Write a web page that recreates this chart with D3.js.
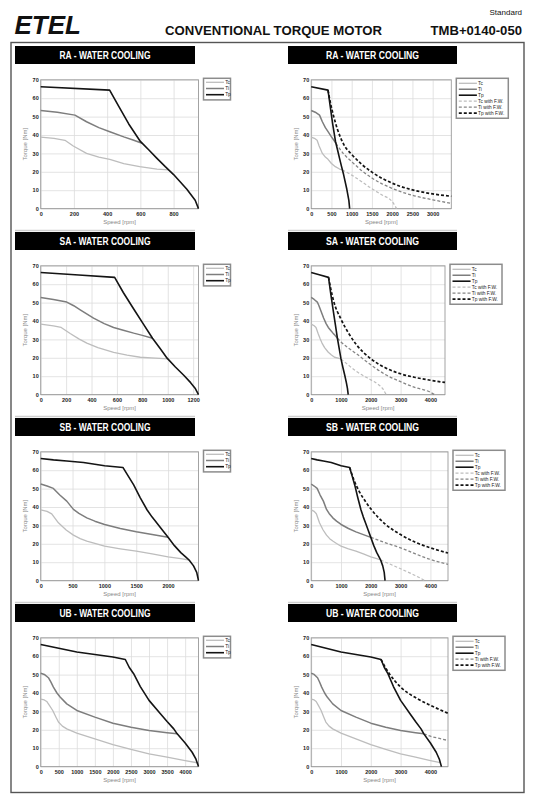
<!DOCTYPE html>
<html>
<head>
<meta charset="utf-8">
<script src="https://cdn.jsdelivr.net/npm/d3@7"></script>
<style>
	body { margin: 0; background: #fff; }
	svg { display: block; font-family: "Liberation Sans", Arial, sans-serif; }
</style>
</head>
<body>
<svg id="page" width="544" height="800"></svg>
<script>

// ---- data: [speed rpm, torque Nm] ----
const yTicks = [0, 10, 20, 30, 40, 50, 60, 70];
const titles = ['RA - WATER COOLING', 'SA - WATER COOLING', 'SB - WATER COOLING', 'UB - WATER COOLING'];

// RA
const raTc = [[0,38.9],[80,38.2],[146,37.1],[196,34],[276,30],[350,28],[416,26.8],[500,24.5],[596,22.8],[700,21.5],[770,21]];
const raTi = [[0,53.3],[100,52.4],[206,50.8],[276,47.2],[350,44],[416,41.8],[500,39],[556,37.3],[610,35.5]];
const raTp = [[0,66.2],[415,64.4],[470,55.5],[530,46],[600,36.5],[650,32],[700,27.3],[750,22.8],[800,18.5],[880,10.5],[930,4.5],[950,0]];
const raTcFW = [[770,21],[1000,18.2],[1250,14.6],[1500,10.8],[1750,7.4],[2000,3.8],[2110,0]];
const raTiFW = [[610,35.5],[800,29.8],[1000,25.5],[1250,20.6],[1500,16.6],[2000,11],[2500,7.2],[3000,4.8],[3460,2.8]];
const raTpFW = [[415,64.4],[470,58],[550,50.5],[650,43],[800,35],[1000,29.5],[1250,24],[1500,19.8],[2000,13.8],[2500,10.2],[3000,8],[3460,6.7]];
const raLeftTicks = [0, 200, 400, 600, 800];
const raRightTicks = [0, 500, 1000, 1500, 2000, 2500, 3000];
const raLeftMax = 950, raRightMax = 3460;

// SA
const saTc = [[0,38.3],[100,37.4],[161,36.5],[232,33.2],[300,30.3],[363,28],[450,25.5],[574,23],[680,21.5],[784,20.3],[900,19.8],[1000,19.4]];
const saTi = [[0,52.8],[100,51.7],[205,50.3],[260,48.3],[311,46.1],[416,41.6],[500,38.6],[574,36.5],[650,35],[732,33.4],[800,32.2],[880,30.6]];
const saTp = [[0,66.4],[300,65],[582,63.7],[650,55.5],[732,46.5],[811,38],[880,30.6],[940,25],[995,19.8],[1060,15],[1126,10.5],[1180,6.5],[1215,3.5],[1242,0]];
const saTcFW = [[1000,19.4],[1250,16],[1500,12.8],[1750,10.3],[2000,8],[2250,5.5],[2400,3.2],[2514,0]];
const saTiFW = [[880,30.6],[1000,28.6],[1250,25.3],[1500,22.4],[2000,16.2],[2500,10.8],[3000,7],[3500,3.8],[4000,1.3],[4140,0]];
const saTpFW = [[582,63.7],[650,58],[750,51],[1000,41],[1250,33.5],[1500,27.5],[2000,19.5],[2500,14.5],[3000,11.3],[3500,9.3],[4000,7.8],[4490,6.6]];
const saLeftTicks = [0, 200, 400, 600, 800, 1000, 1200];
const saRightTicks = [0, 1000, 2000, 3000, 4000];
const saLeftMax = 1242, saRightMax = 4490;

// SB
const sbTc = [[0,38.4],[100,37.6],[173,36.3],[278,31.4],[400,27.5],[514,24.7],[620,22.8],[724,21.5],[850,20.2],[1003,18.7],[1250,17.3],[1501,16],[1750,14.5],[2000,12.9],[2200,11.9],[2330,11.2]];
const sbTi = [[0,52.5],[100,51.4],[199,50.1],[300,46.5],[409,43.2],[514,38.7],[600,36.5],[724,34.1],[850,32.3],[1003,30.5],[1250,28.3],[1501,26.5],[1750,25],[2000,23.5]];
const sbTp = [[0,66.4],[200,65.6],[409,65],[672,64.2],[1003,62.4],[1291,61.5],[1380,56.5],[1460,52],[1564,45],[1669,38.5],[1750,34.5],[1827,31.2],[1910,27.5],[2000,23.5],[2100,19],[2200,15.2],[2280,12.8],[2330,11.2],[2400,8],[2450,4.5],[2478,0]];
const sbTcFW = [[2330,11.2],[2500,10],[3000,6.4],[3500,2.7],[3810,0]];
const sbTiFW = [[2000,23.5],[2500,20.5],[3000,17.8],[3500,14.5],[4000,11.5],[4590,8.8]];
const sbTpFW = [[1291,61.5],[1350,58.5],[1450,54],[1600,48.8],[1800,43.5],[2000,39],[2500,30.5],[3000,25],[3500,20.8],[4000,17.8],[4590,15]];
const sbLeftTicks = [0, 500, 1000, 1500, 2000];
const sbRightTicks = [0, 1000, 2000, 3000, 4000];
const sbLeftMax = 2478, sbRightMax = 4590;

// UB
const ubTc = [[0,36.7],[100,36.2],[167,35.4],[250,33],[333,30.5],[420,27],[491,24.2],[600,22],[722,20.5],[1000,18.2],[1500,15.1],[2000,12],[2500,9.3],[3000,6.9],[3500,5.1],[4000,3.3],[4333,2.1]];
const ubTi = [[0,50.7],[100,50.1],[213,48.3],[280,46],[352,43.2],[450,40],[537,37.8],[722,34.1],[1000,30.5],[1500,26.9],[2000,23.6],[2500,21.4],[3000,19.6],[3500,18.4],[3780,17.8]];
const ubTp = [[0,66.4],[500,64.3],[1000,62.3],[1500,60.9],[2000,59.6],[2343,58.2],[2450,54],[2574,50.5],[2759,43.5],[3000,36],[3315,28.7],[3500,24.5],[3685,20.5],[3780,17.8],[4000,12.8],[4194,7.8],[4300,4],[4370,0]];
const ubTiFW = [[3780,17.8],[4000,16.5],[4300,15.3],[4590,14.2]];
const ubTpFW = [[2343,58.2],[2450,55],[2600,51],[2800,46.7],[3000,43.2],[3500,37.5],[4000,33.3],[4590,29]];
const ubLeftTicks = [0, 500, 1000, 1500, 2000, 2500, 3000, 3500, 4000];
const ubRightTicks = [0, 1000, 2000, 3000, 4000];
const ubLeftMax = 4370, ubRightMax = 4590;

// ---- styles and layout ----
const styles = {
	Tc:   {label: 'Tc',           stroke: '#bdbdbd', width: 1.3, dash: null,  curve: d3.curveLinear},
	Ti:   {label: 'Ti',           stroke: '#7d7d7d', width: 1.5, dash: null,  curve: d3.curveLinear},
	Tp:   {label: 'Tp',           stroke: '#141414', width: 1.6, dash: null,  curve: d3.curveLinear},
	TcFW: {label: 'Tc with F.W.', stroke: '#bdbdbd', width: 1.2, dash: '3,2', curve: d3.curveMonotoneX},
	TiFW: {label: 'Ti with F.W.', stroke: '#858585', width: 1.3, dash: '3,2', curve: d3.curveMonotoneX},
	TpFW: {label: 'Tp with F.W.', stroke: '#141414', width: 1.7, dash: '3,2', curve: d3.curveMonotoneX}
};

const rowTops = [46, 232, 418, 604];
const rightEdges = [451.3, 445, 448, 448];

const rows = [
	{left: {xMax: raLeftMax, ticks: raLeftTicks, series: {Tc: raTc, Ti: raTi, Tp: raTp}},
	 right: {xMax: raRightMax, ticks: raRightTicks, series: {Tc: raTc, Ti: raTi, Tp: raTp, TcFW: raTcFW, TiFW: raTiFW, TpFW: raTpFW}}},
	{left: {xMax: saLeftMax, ticks: saLeftTicks, series: {Tc: saTc, Ti: saTi, Tp: saTp}},
	 right: {xMax: saRightMax, ticks: saRightTicks, series: {Tc: saTc, Ti: saTi, Tp: saTp, TcFW: saTcFW, TiFW: saTiFW, TpFW: saTpFW}}},
	{left: {xMax: sbLeftMax, ticks: sbLeftTicks, series: {Tc: sbTc, Ti: sbTi, Tp: sbTp}},
	 right: {xMax: sbRightMax, ticks: sbRightTicks, series: {Tc: sbTc, Ti: sbTi, Tp: sbTp, TcFW: sbTcFW, TiFW: sbTiFW, TpFW: sbTpFW}}},
	{left: {xMax: ubLeftMax, ticks: ubLeftTicks, series: {Tc: ubTc, Ti: ubTi, Tp: ubTp}},
	 right: {xMax: ubRightMax, ticks: ubRightTicks, series: {Tc: ubTc, Ti: ubTi, Tp: ubTp, TiFW: ubTiFW, TpFW: ubTpFW}}}
];

const svg = d3.select('#page');

// Page header and frame
svg.append('text').attr('x', 522).attr('y', 15).attr('text-anchor', 'end')
	.attr('font-size', 8).attr('fill', '#111').text('Standard');
svg.append('text').attr('x', 14.5).attr('y', 34).attr('font-size', 26)
	.attr('font-weight', 'bold').attr('font-style', 'italic').attr('fill', '#111').text('ETEL');
svg.append('text').attr('x', 165).attr('y', 34.5).attr('font-size', 13.3).attr('font-weight', 'bold')
	.attr('textLength', 217).attr('lengthAdjust', 'spacingAndGlyphs').attr('fill', '#111')
	.text('CONVENTIONAL TORQUE MOTOR');
svg.append('text').attr('x', 430.5).attr('y', 34.5).attr('font-size', 13.3).attr('font-weight', 'bold')
	.attr('textLength', 91.5).attr('lengthAdjust', 'spacingAndGlyphs').attr('fill', '#111')
	.text('TMB+0140-050');
svg.append('rect').attr('x', 11).attr('y', 42.5).attr('width', 513).attr('height', 750)
	.attr('fill', 'none').attr('stroke', '#555').attr('stroke-width', 1.4);

rows.forEach((row, i) => {
	const top = rowTops[i];
	titleBar(15, top, 180, 91, titles[i]);
	titleBar(288, top, 169, 93, titles[i]);
	if (i < rows.length - 1) {
		[[15, 195], [288, 457]].forEach(([a, b]) => {
			svg.append('line').attr('x1', a).attr('x2', b).attr('y1', top + 184.5).attr('y2', top + 184.5)
				.attr('stroke', '#cfcfcf').attr('stroke-width', 1.5);
		});
	}
	drawPanel(Object.assign({left: 40.7, right: 198.5, top: top + 33.8, bottom: top + 162.6, legendW: 27}, row.left));
	drawPanel(Object.assign({left: 311.2, right: rightEdges[i], top: top + 33.8, bottom: top + 162.6, legendW: 52}, row.right));
});

function titleBar(x, y, w, textW, label) {
	svg.append('rect').attr('x', x).attr('y', y).attr('width', w).attr('height', 18).attr('fill', '#000');
	svg.append('text').attr('x', x + w / 2).attr('y', y + 12.6).attr('text-anchor', 'middle')
		.attr('font-size', 10).attr('font-weight', 'bold').attr('fill', '#fff')
		.attr('textLength', textW).attr('lengthAdjust', 'spacingAndGlyphs').text(label);
}

function drawPanel(p) {
	const g = svg.append('g');
	const x = d3.scaleLinear().domain([0, p.xMax]).range([p.left, p.right]);
	const y = d3.scaleLinear().domain([0, 70]).range([p.bottom, p.top]);

	g.append('rect').attr('x', p.left).attr('y', p.top)
		.attr('width', p.right - p.left).attr('height', p.bottom - p.top).attr('fill', '#fff');

	// Axes with gridlines
	const xAxis = g.append('g').attr('transform', `translate(0,${p.bottom})`)
		.call(d3.axisBottom(x).tickValues(p.ticks).tickSize(-(p.bottom - p.top)).tickPadding(3.4).tickFormat(d3.format('d')));
	const yAxis = g.append('g').attr('transform', `translate(${p.left},0)`)
		.call(d3.axisLeft(y).tickValues(yTicks).tickSize(-(p.right - p.left)).tickPadding(2).tickFormat(d3.format('d')));
	[xAxis, yAxis].forEach(a => {
		a.select('.domain').remove();
		a.selectAll('.tick line').attr('stroke', '#dcdcdc').attr('stroke-width', 0.8);
		a.selectAll('.tick text').attr('font-size', 5.5).attr('font-weight', 'bold').attr('fill', '#222')
			.attr('font-family', '"Liberation Sans", Arial, sans-serif');
	});

	g.append('rect').attr('x', p.left).attr('y', p.top)
		.attr('width', p.right - p.left).attr('height', p.bottom - p.top)
		.attr('fill', 'none').attr('stroke', '#9a9a9a').attr('stroke-width', 0.9);

	// Axis titles
	g.append('text').attr('x', (p.left + p.right) / 2).attr('y', p.bottom + 15.8).attr('text-anchor', 'middle')
		.attr('font-size', 6).attr('fill', '#888').text('Speed [rpm]');
	g.append('text').attr('transform', `translate(${p.left - 13.5},${(p.top + p.bottom) / 2}) rotate(-90)`)
		.attr('text-anchor', 'middle').attr('font-size', 6).attr('fill', '#888').text('Torque [Nm]');

	// Curves: dashed field-weakening ones first, Tp last on top
	const keys = Object.keys(p.series);
	const order = ['TcFW', 'TiFW', 'TpFW', 'Tc', 'Ti', 'Tp'].filter(k => keys.includes(k));
	order.forEach(k => {
		const s = styles[k];
		const line = d3.line().x(d => x(d[0])).y(d => y(d[1])).curve(s.curve);
		g.append('path').datum(p.series[k]).attr('d', line)
			.attr('fill', 'none').attr('stroke', s.stroke).attr('stroke-width', s.width)
			.attr('stroke-dasharray', s.dash).attr('stroke-linejoin', 'round');
	});

	// Legend
	const lx = p.right + 5, ly = p.top - 1.5;
	const step = p.legendW > 30 ? 5.95 : 6.2;
	const first = p.legendW > 30 ? 5 : 4;
	const lh = first + (keys.length - 1) * step + 5.2;
	const lineEnd = p.legendW > 30 ? 20.6 : 20.5;
	const leg = g.append('g').attr('transform', `translate(${lx},${ly})`);
	leg.append('rect').attr('width', p.legendW).attr('height', lh)
		.attr('fill', '#fff').attr('stroke', '#8c8c8c').attr('stroke-width', 1.5);
	keys.forEach((k, j) => {
		const s = styles[k];
		const yy = first + j * step;
		leg.append('line').attr('x1', 2.5).attr('x2', lineEnd).attr('y1', yy).attr('y2', yy)
			.attr('stroke', s.stroke).attr('stroke-width', s.width).attr('stroke-dasharray', s.dash);
		leg.append('text').attr('x', lineEnd + 1.2).attr('y', yy + 1.7)
			.attr('font-size', 4.8).attr('fill', '#222').text(s.label);
	});
}

</script>
</body>
</html>
